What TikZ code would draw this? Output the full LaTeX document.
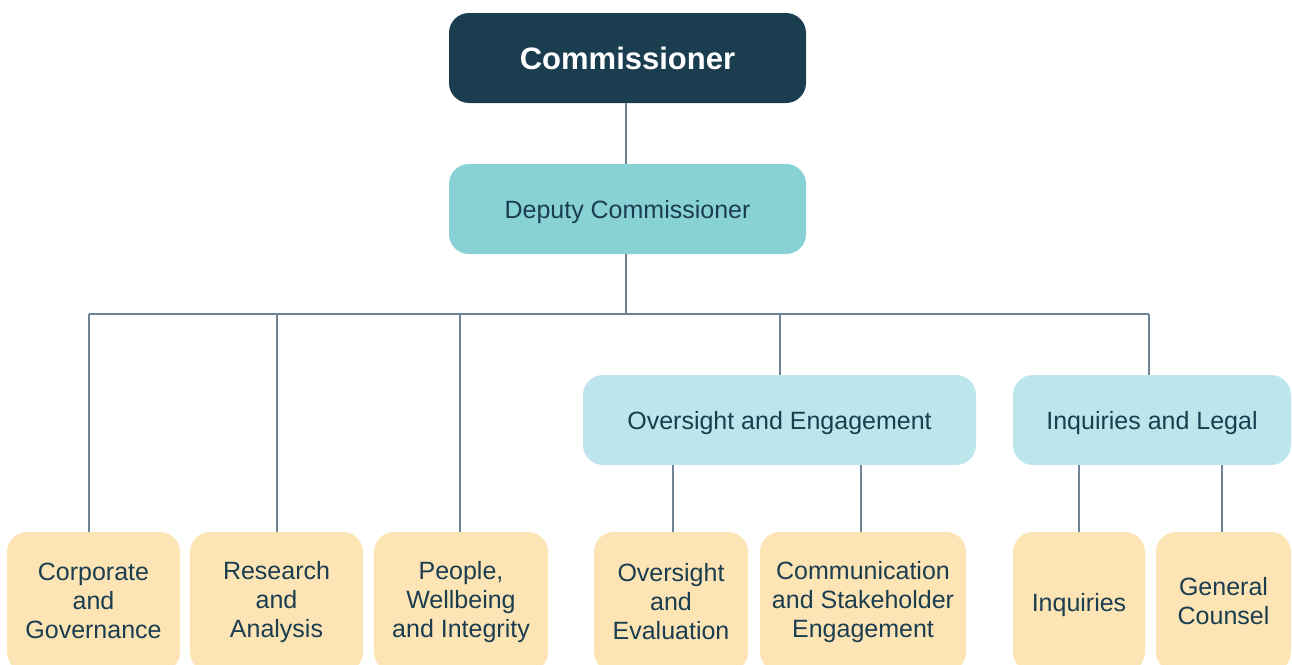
\documentclass[tikz,border=0pt]{standalone}
\usepackage{fontspec}
\setmainfont{Liberation Sans}
\definecolor{navy}{HTML}{1A3D50}
\definecolor{teal}{HTML}{88D2D6}
\definecolor{ltblue}{HTML}{BDE5EC}
\definecolor{sand}{HTML}{FDE4B4}
\definecolor{lineclr}{HTML}{6E8393}
\newcommand{\topstrut}{\rule{0pt}{24pt}}
\newcommand{\botstrut}{\rule[-2pt]{0pt}{2pt}}
\begin{document}
\begin{tikzpicture}[x=1pt,y=-1pt,
  box/.style={rectangle, rounded corners=20pt, inner sep=0pt, align=center, text=navy,
    font=\fontsize{25}{29}\selectfont, execute at begin node=\topstrut, execute at end node=\botstrut},
  topbox/.style={box, fill=navy, text=white, font=\fontsize{31}{36}\selectfont\bfseries},
  depbox/.style={box, fill=teal},
  midbox/.style={box, fill=ltblue},
  leafbox/.style={box, fill=sand},
  conn/.style={draw=lineclr, line width=1.1pt}]
\clip (0,0) rectangle (1292,664);
\useasboundingbox (0,0) rectangle (1292,664);
\fill[white] (0,0) rectangle (1292,664);

\node[topbox, minimum width=357pt, minimum height=90pt] (com) at (627.5,58) {Commissioner};
\node[depbox, minimum width=357pt, minimum height=90pt] (dep) at (627.5,209) {Deputy Commissioner};
\node[midbox, minimum width=393pt, minimum height=90pt] (oe) at (779.5,420) {Oversight and Engagement};
\node[midbox, minimum width=278pt, minimum height=90pt] (il) at (1152,420) {Inquiries and Legal};

\node[leafbox, minimum width=173pt, minimum height=140pt] (corp) at (93.5,602) {Corporate\\and\\Governance};
\node[leafbox, minimum width=173pt, minimum height=140pt] (res) at (276.5,602) {Research\\and\\Analysis};
\node[leafbox, minimum width=174pt, minimum height=140pt] (peo) at (461,602) {People,\\Wellbeing\\and Integrity};
\node[leafbox, minimum width=154pt, minimum height=140pt] (ove) at (671,602) {Oversight\\and\\Evaluation};
\node[leafbox, minimum width=206pt, minimum height=140pt] (csh) at (863,602) {Communication\\and Stakeholder\\Engagement};
\node[leafbox, minimum width=132pt, minimum height=140pt] (inq) at (1079,602) {Inquiries};
\node[leafbox, minimum width=135pt, minimum height=140pt] (gc) at (1223.5,602) {General\\Counsel};

\coordinate (bar) at (626,314);
\coordinate (b1) at (89,314);
\coordinate (b2) at (277,314);
\coordinate (b3) at (460,314);
\coordinate (b4) at (780,314);
\coordinate (b5) at (1149,314);
\coordinate (o1) at (673,465);
\coordinate (o2) at (861,465);
\coordinate (i1) at (1079,465);
\coordinate (i2) at (1222,465);

\draw[conn] (com.south -| bar) -- (dep.north -| bar);
\draw[conn] (dep.south -| bar) -- (bar);
\draw[conn] (b1) -- (b5);
\draw[conn] (b1) -- (b1 |- corp.north);
\draw[conn] (b2) -- (b2 |- res.north);
\draw[conn] (b3) -- (b3 |- peo.north);
\draw[conn] (b4) -- (b4 |- oe.north);
\draw[conn] (b5) -- (b5 |- il.north);
\draw[conn] (o1) -- (o1 |- ove.north);
\draw[conn] (o2) -- (o2 |- csh.north);
\draw[conn] (i1) -- (i1 |- inq.north);
\draw[conn] (i2) -- (i2 |- gc.north);
\end{tikzpicture}
\end{document}
